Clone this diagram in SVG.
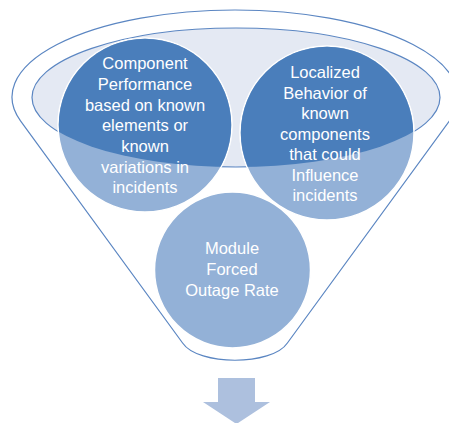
<svg xmlns="http://www.w3.org/2000/svg" width="449" height="423" viewBox="0 0 449 423">
<style>
.lbl{font-family:"Liberation Sans",Arial,sans-serif;font-size:16.5px;fill:#ffffff;text-anchor:middle}
.line{fill:none;stroke:#5b86c2;stroke-width:1.2}
.light{fill:#93b1d7;stroke:#ffffff;stroke-width:1.5}
.dark{fill:#4a7ebb}
</style>
<defs>
<clipPath id="ell"><ellipse cx="236" cy="97.5" rx="204" ry="69.5"/></clipPath>
</defs>
<rect width="449" height="423" fill="#ffffff"/>
<g id="funnel">
<path class="line" d="M20.5,120.8 A223 87 0 1 1 449.5,120.8 L287.4,343 C272,366 198,366 182.6,343 Z" fill="#ffffff"/>
<ellipse cx="236" cy="97.5" rx="204" ry="69.5" fill="#e4e9f3" stroke="#5b86c2" stroke-width="1.2"/>
</g>
<g id="node-component">
<circle class="light" cx="145" cy="125" r="87"/>
<circle class="dark" cx="145" cy="125" r="86.2" clip-path="url(#ell)"/>
<text class="lbl" x="145"><tspan x="145" y="69">Component</tspan><tspan x="145" y="90">Performance</tspan><tspan x="145" y="111">based on known</tspan><tspan x="145" y="131">elements or</tspan><tspan x="145" y="152">known</tspan><tspan x="145" y="173">variations in</tspan><tspan x="145" y="193">incidents</tspan></text>
</g>
<g id="node-localized">
<circle class="light" cx="327" cy="133" r="87"/>
<circle class="dark" cx="327" cy="133" r="86.2" clip-path="url(#ell)"/>
<text class="lbl"><tspan x="325" y="78">Localized</tspan><tspan x="325" y="98.5">Behavior of</tspan><tspan x="325" y="119">known</tspan><tspan x="325" y="139.5">components</tspan><tspan x="325" y="160">that could</tspan><tspan x="325" y="180.5">Influence</tspan><tspan x="325" y="201">incidents</tspan></text>
</g>
<g id="node-module">
<circle class="light" cx="232.5" cy="270" r="78"/>
<text class="lbl"><tspan x="232" y="254">Module</tspan><tspan x="232" y="275">Forced</tspan><tspan x="232" y="296">Outage Rate</tspan></text>
</g>
<g id="connectors">
<path d="M218,378 H255 V402 H270 L236.5,424 L203,402 H218 Z" fill="#adc0de"/>
</g>
</svg>
